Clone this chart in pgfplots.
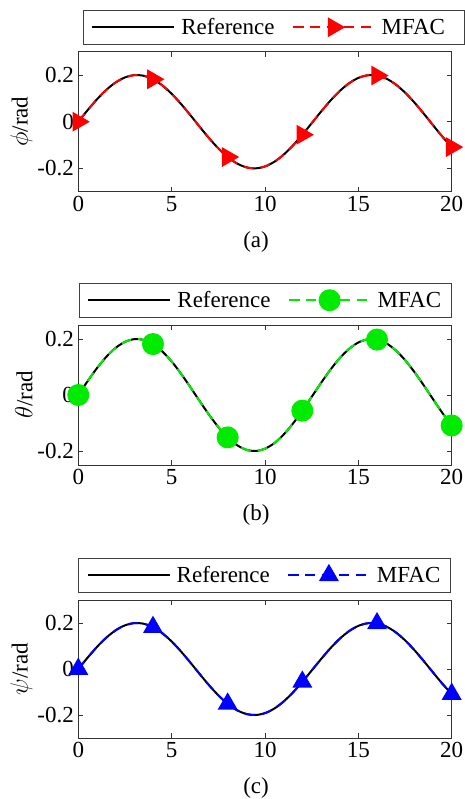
\documentclass[border=0pt]{standalone}
\usepackage{fontspec}
\setmainfont{Liberation Serif}
\usepackage{pgfplots}
\usepackage{pgfplotstable}
\pgfplotsset{compat=1.18}

% t, reference, MFAC output (rad)
\pgfplotstableread{
t    r
0    0.0000
0.5  0.0495
1    0.0959
1.5  0.1363
2    0.1683
2.5  0.1898
3    0.1995
3.5  0.1968
4    0.1819
4.5  0.1556
5    0.1197
5.5  0.0763
6    0.0282
6.5  -0.0216
7    -0.0702
7.5  -0.1143
8    -0.1514
8.5  -0.1790
9    -0.1955
9.5  -0.1999
10   -0.1918
10.5 -0.1718
11   -0.1411
11.5 -0.1017
12   -0.0559
12.5 -0.0066
13   0.0430
13.5 0.0900
14   0.1314
14.5 0.1646
15   0.1876
15.5 0.1989
16   0.1979
16.5 0.1846
17   0.1597
17.5 0.1249
18   0.0824
18.5 0.0349
19   -0.0150
19.5 -0.0639
20   -0.1088
}\angles

\pgfplotsset{
  panel/.style={
    width=373.4pt, height=140pt, scale only axis,
    anchor=south west,
    font=\fontsize{23}{27}\selectfont,
    xmin=0, xmax=20, xtick={0,5,10,15,20},
    ytick={-0.2,0,0.2}, yticklabels={-0.2,0,0.2},
    /pgf/number format/assume math mode=true,
    tick align=inside, major tick length=5pt,
    axis line style={black!80, line width=0.8pt},
    every tick/.style={black!80, line width=0.8pt},
    xticklabel style={yshift=-1pt},
    yticklabel style={xshift=-1pt},
    ylabel style={yshift=-2pt},
    legend columns=2,
    legend cell align=left,
    legend style={anchor=north west, draw=black!75, line width=0.8pt,
      inner xsep=8pt, inner ysep=6pt, nodes={inner sep=2pt},
      column sep=4pt,
      font=\fontsize{23}{27}\selectfont,
      /tikz/every even column/.append style={column sep=15pt}},
    legend image code/.code={
      \draw[mark repeat=2,mark phase=2,#1]
        plot coordinates {(0pt,0pt) (41pt,0pt) (82pt,0pt)};
    },
  },
  refline/.style={black, line width=2pt, smooth, no marks},
  mfac/.style={line width=2pt, smooth, dash pattern=on 10pt off 7pt,
    mark repeat=8},
}

\begin{document}
\begin{tikzpicture}
\path[use as bounding box] (0,0) rectangle (464pt,-799pt);

% (a) roll
\begin{axis}[panel, at={(78.3pt,-191.7pt)},
  ymin=-0.3, ymax=0.3,
  ylabel={$\phi$/rad},
  xlabel={(a)},
  xlabel style={at={(axis description cs:0.476,-0.356)}, anchor=center},
  legend style={at={(axis description cs:0.0126,1.298)}}]
\addplot[refline] table[x=t,y=r] {\angles};
\addlegendentry{Reference}
\addplot[mfac, red, mark=triangle*, mark size=9.5pt,
  mark options={solid, rotate=-90, fill=red}] table[x=t,y=r] {\angles};
\addlegendentry{MFAC\kern9pt}
\end{axis}

% (b) pitch
\begin{axis}[panel, at={(78.3pt,-465pt)},
  ymin=-0.25, ymax=0.25,
  ylabel={$\theta$/rad},
  xlabel={(b)},
  xlabel style={at={(axis description cs:0.476,-0.356)}, anchor=center},
  legend style={at={(axis description cs:0.0019,1.3)}}]
\addplot[refline] table[x=t,y=r] {\angles};
\addlegendentry{Reference}
\addplot[mfac, color={rgb,255:red,0;green,235;blue,0}, mark=*, mark size=10pt,
  mark options={solid}] table[x=t,y=r] {\angles};
\addlegendentry{MFAC}
\end{axis}

% (c) yaw
\begin{axis}[panel, at={(78.3pt,-738pt)}, height=138pt,
  ymin=-0.3, ymax=0.3,
  ylabel={$\psi$/rad},
  xlabel={(c)},
  xlabel style={at={(axis description cs:0.476,-0.359)}, anchor=center},
  legend style={at={(axis description cs:0,1.304)}}]
\addplot[refline] table[x=t,y=r] {\angles};
\addlegendentry{Reference}
\addplot[mfac, blue, mark=triangle*, mark size=9.5pt,
  mark options={solid, fill=blue}] table[x=t,y=r] {\angles};
\addlegendentry{MFAC}
\end{axis}
\end{tikzpicture}
\end{document}
